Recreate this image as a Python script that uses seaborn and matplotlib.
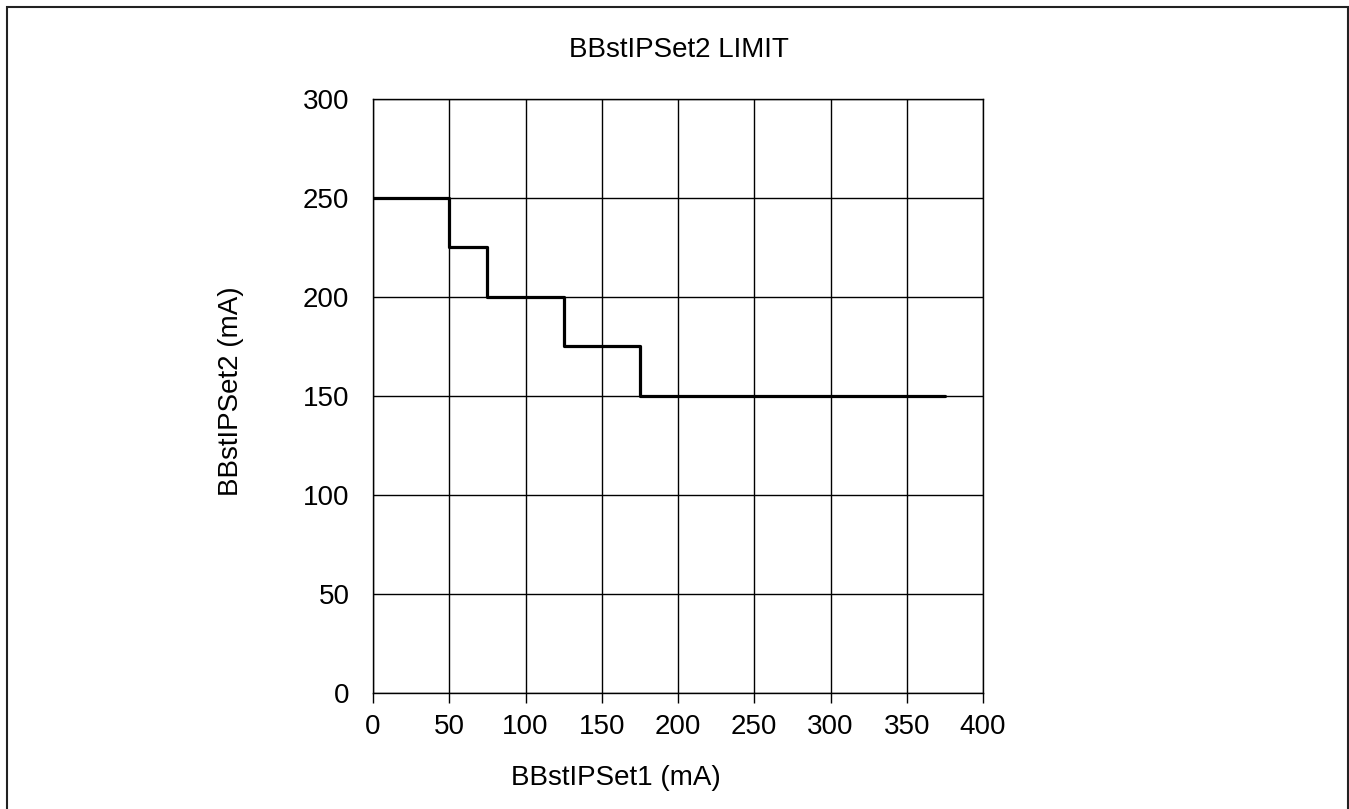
import matplotlib
matplotlib.use("Agg")
import matplotlib.pyplot as plt
import seaborn as sns
import pandas as pd
from matplotlib.patches import Rectangle

# Data
x_vals = [0, 50, 75, 125, 175, 375]
y_vals = [250, 225, 200, 175, 150, 150]
x_ticks = [0, 50, 100, 150, 200, 250, 300, 350, 400]
y_ticks = [0, 50, 100, 150, 200, 250, 300]
title = "BBstIPSet2 LIMIT"
x_label = "BBstIPSet1 (mA)"
y_label = "BBstIPSet2 (mA)"

sns.set_theme(style="white")
plt.rcParams['font.family'] = ['Liberation Sans', 'DejaVu Sans']
FS = 20

fig = plt.figure(figsize=(13.49, 8.09), dpi=100)
ax = fig.add_axes([373/1349, 1 - 693/809, (983 - 373)/1349, (693 - 99)/809])

df = pd.DataFrame({"x": x_vals, "y": y_vals})
sns.lineplot(data=df, x="x", y="y", ax=ax, color="black", linewidth=2.3,
             drawstyle="steps-post", zorder=3)

ax.set_xlim(0, 400)
ax.set_ylim(0, 300)
ax.set_xticks(x_ticks)
ax.set_yticks(y_ticks)
ax.grid(True, color="black", linewidth=1.0)
for s in ax.spines.values():
    s.set_color("black")
    s.set_linewidth(1.0)
ax.tick_params(axis="x", direction="out", length=7, width=1.0, color="black",
               labelsize=FS, pad=8, bottom=True)
ax.tick_params(axis="y", length=0, labelsize=FS, pad=17)
for lab in ax.get_xticklabels() + ax.get_yticklabels():
    lab.set_color("black")

ax.set_xlabel("")
ax.set_ylabel("")
fig.text(679/1349, 1 - 50/809, title, ha="center", va="center",
         fontsize=FS, color="black")
fig.text(616/1349, 1 - 778/809, x_label, ha="center", va="center", fontsize=FS, color="black")
fig.text(231/1349, 1 - 391/809, y_label, ha="center", va="center", rotation=90,
         fontsize=FS, color="black")

border = Rectangle((7/1349, -0.05), (1348 - 7)/1349, 1.05 - 7/809,
                   transform=fig.transFigure, fill=False, edgecolor="#222222",
                   linewidth=1.5, clip_on=False)
fig.patches.append(border)

fig.savefig("out.png", dpi=100)
